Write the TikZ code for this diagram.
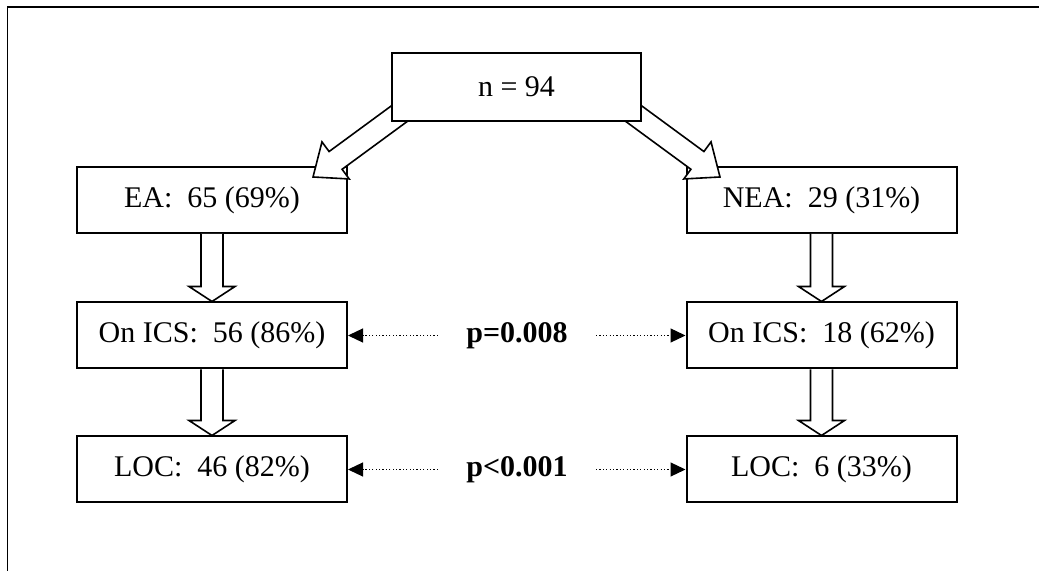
\documentclass[tikz,border=0pt]{standalone}
\usepackage{fontspec}
\setmainfont{Liberation Serif}
\usepackage{tikz}
\usetikzlibrary{calc}
\usetikzlibrary{arrows.meta}
\tikzstyle{every node}=[font=\fontsize{15}{18}\selectfont]
\tikzstyle{box}=[draw,line width=1pt,fill=white,minimum width=135pt,minimum height=33pt,inner sep=0pt]
\tikzstyle{fat}=[draw,line width=0.8pt,fill=white,line join=miter]
\tikzstyle{dots}=[line width=0.6pt,dash pattern=on 0.6pt off 1.1pt,-{Triangle[length=7.5pt,width=7pt]}]
\tikzstyle{pval}=[font=\fontsize{15}{18}\selectfont\bfseries,inner xsep=14pt]
% hollow block arrow from #2 to the tip #3, #1 = head length
\newcommand{\fatarrow}[3][7.5pt]{%
  \path[fat] let \p1=(#2), \p2=(#3),
    \n1={atan2(\y2-\y1,\x2-\x1)}, \n2={veclen(\x2-\x1,\y2-\y1)} in
    [shift={(\p1)},rotate=\n1]
    (0pt,-5.5pt) -- ({\n2*1pt-#1},-5.5pt) -- ({\n2*1pt-#1},-11.5pt)
    -- ({\n2*1pt},0pt) -- ({\n2*1pt-#1},11.5pt) -- ({\n2*1pt-#1},5.5pt) -- (0pt,5.5pt);}
\begin{document}
\begin{tikzpicture}[x=0.5pt,y=0.5pt]
\useasboundingbox (0,0) rectangle (1039,-571);
\draw [line width=0.9pt] (7.5,-571) -- (7.5,-7) -- (1039,-7);
% left column
\node [box] (ea) at (212,-200) {EA:\ \ 65 (69\%)};
\node [box] (icsL) at (212,-335.5) {On ICS:\ \ 56 (86\%)};
\node [box] (locL) at (212,-469.5) {LOC:\ \ 46 (82\%)};
% right column
\node [box] (nea) at (821.5,-200) {NEA:\ \ 29 (31\%)};
\node [box] (icsR) at (821.5,-335.5) {On ICS:\ \ 18 (62\%)};
\node [box] (locR) at (821.5,-469.5) {LOC:\ \ 6 (33\%)};
\fatarrow{ea.south}{icsL.north}
\fatarrow{icsL.south}{locL.north}
\fatarrow{nea.south}{icsR.north}
\fatarrow{icsR.south}{locR.north}
\coordinate (ldTail) at (407,-108);
\coordinate (ldTip) at (313,-177);
\coordinate (rdTail) at (626,-108);
\coordinate (rdTip) at (720,-177);
\fatarrow[14pt]{ldTail}{ldTip}
\fatarrow[14pt]{rdTail}{rdTip}
\node [box,minimum width=124.5pt,minimum height=34pt] (nAll) at (516.5,-87) {n = 94};
% p values
\node [pval] (pICS) at (517,-335.5) {p=0.008};
\node [pval] (pLOC) at (517,-469.5) {p<0.001};
\draw [dots] (pICS.west) -- (icsL.east);
\draw [dots] (pICS.east) -- (icsR.west);
\draw [dots] (pLOC.west) -- (locL.east);
\draw [dots] (pLOC.east) -- (locR.west);
\end{tikzpicture}
\end{document}
